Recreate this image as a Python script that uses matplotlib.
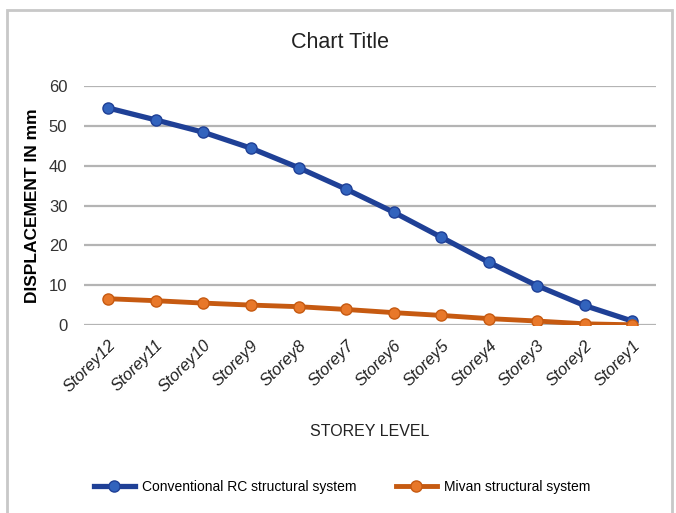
import matplotlib.pyplot as plt
from matplotlib.patches import Rectangle

storeys = ['Storey12', 'Storey11', 'Storey10', 'Storey9', 'Storey8', 'Storey7',
           'Storey6', 'Storey5', 'Storey4', 'Storey3', 'Storey2', 'Storey1']
conventional_rc = [54.5, 51.5, 48.4, 44.4, 39.5, 34.1, 28.3, 22.0, 15.7, 9.9, 4.9, 1.0]
mivan = [6.6, 6.1, 5.5, 5.0, 4.6, 3.9, 3.1, 2.4, 1.6, 1.0, 0.3, 0.05]

plt.rcParams['font.family'] = ['Liberation Sans', 'DejaVu Sans']

fig = plt.figure(figsize=(6.76, 5.13), dpi=100)
ax = fig.add_axes([84 / 676, 1 - 325 / 513, 572 / 676, 239 / 513])

# chart border
fig.patches.append(Rectangle((7 / 676, -0.05), 665 / 676, 1.04 - 5 / 513,
                             transform=fig.transFigure, fill=False,
                             edgecolor='#c8c8c8', linewidth=2))

x = range(len(storeys))
ax.plot(x, conventional_rc, color='#1f4096', linewidth=3.8, marker='o',
        markersize=8, markerfacecolor='#3263bd', markeredgecolor='#1f4096',
        label='Conventional RC structural system', zorder=3)
ax.plot(x, mivan, color='#c65a11', linewidth=3.5, marker='o',
        markersize=8, markerfacecolor='#e8782a', markeredgecolor='#c65a11',
        label='Mivan structural system', zorder=3)

ax.set_xlim(-0.5, len(storeys) - 0.5)
ax.set_ylim(0, 60)
ax.set_yticks(range(0, 61, 10))
ax.set_xticks(list(x))
ax.set_xticklabels(storeys, rotation=45, ha='right', rotation_mode='anchor',
                   fontsize=12, style='italic')
ax.tick_params(axis='y', labelsize=12, length=0, pad=12, labelcolor='#333333')
ax.tick_params(axis='x', length=0, pad=9, labelcolor='#222222')
ax.grid(axis='y', color='#b4b4b4', linewidth=1.6)
ax.set_axisbelow(True)
for s in ax.spines.values():
    s.set_visible(False)

ax.set_ylabel('DISPLACEMENT IN mm', fontsize=12.5, fontweight='bold', labelpad=6)
ax.set_xlabel('STOREY LEVEL', fontsize=11.5, labelpad=21, color='#222222')
fig.text(340 / 676, 1 - 42 / 513, 'Chart Title', fontsize=15.5,
         ha='center', va='center', color='#222222')

fig.legend(loc='center', bbox_to_anchor=(342 / 676, 1 - 487 / 513), ncol=2,
           frameon=False, fontsize=10, handlelength=3.0, handletextpad=0.5,
           columnspacing=2.8)

fig.savefig('out.png', dpi=100)
